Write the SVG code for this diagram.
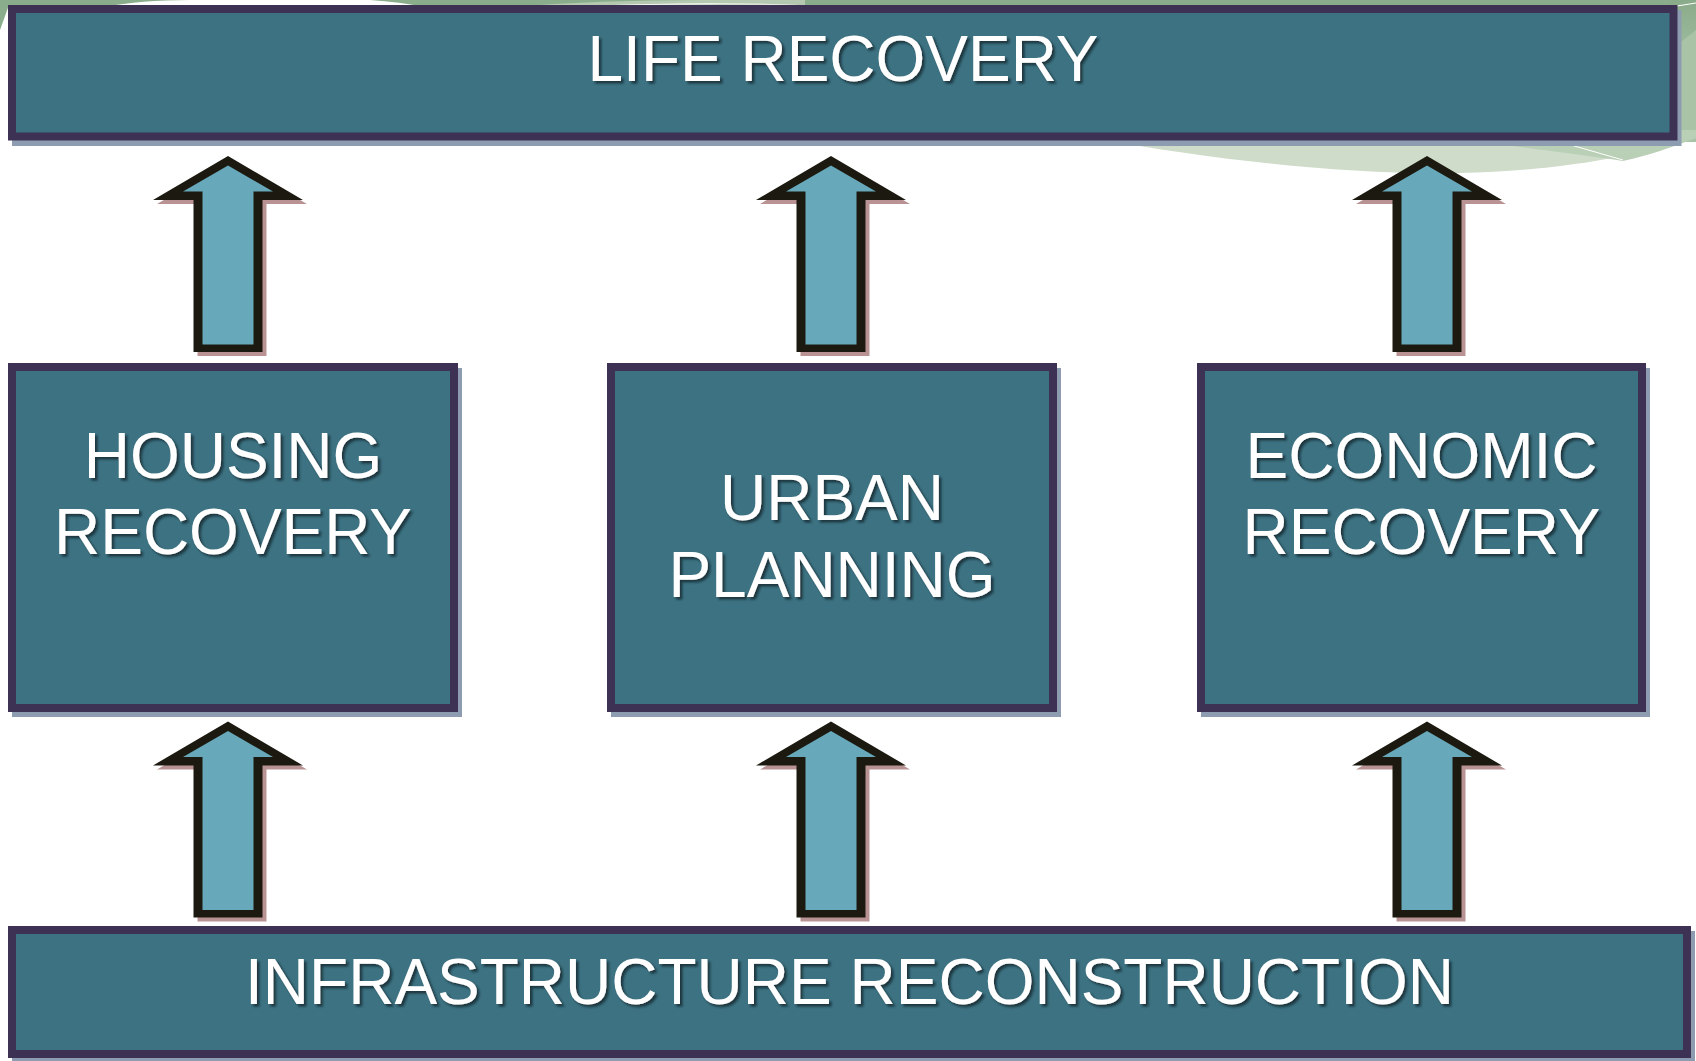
<svg xmlns="http://www.w3.org/2000/svg" xmlns:xlink="http://www.w3.org/1999/xlink" width="1696" height="1061" viewBox="0 0 1696 1061">
  <style>
    .box { fill: #3d7282; stroke: #3e3254; stroke-width: 8; }
    .shadow { fill: #8e9cb2; }
    .label { font-family: "Liberation Sans", Arial, sans-serif; font-size: 64px; fill: #ffffff; text-anchor: middle; filter: url(#ts); }
    .ashadow { fill: #b99393; }
    .aouter { fill: #1c1a10; }
    .ainner { fill: #67a8ba; }
  </style>
  <defs>
    <filter id="ts" x="-10%" y="-20%" width="120%" height="150%">
      <feDropShadow dx="2.5" dy="2.5" stdDeviation="1.2" flood-color="#12222a" flood-opacity="0.75"/>
    </filter>
    <linearGradient id="rg" x1="0" y1="0" x2="0" y2="1">
      <stop offset="0" stop-color="#8aab8a"/>
      <stop offset="0.3" stop-color="#9ab89a"/>
      <stop offset="1" stop-color="#b8cfb5"/>
    </linearGradient>
    <g id="arrow">
      <polygon class="ashadow" points="4,4 79,48 38.5,48 38.5,200 -30.5,200 -30.5,48 -71,48"/>
      <polygon class="aouter" points="0,0 75,44 34.5,44 34.5,196 -34.5,196 -34.5,44 -75,44"/>
      <polygon class="ainner" points="0,9.5 45,35.5 25.5,35.5 25.5,188.5 -25.5,188.5 -25.5,35.5 -45,35.5"/>
    </g>
  </defs>

  <rect x="0" y="0" width="1696" height="1061" fill="#ffffff"/>

  <!-- background decoration -->
  <g id="background">
    <rect x="0" y="0" width="1696" height="7" fill="#8aae8c"/>
    <path d="M105,7 Q140,0 190,0 L370,0 Q400,2 425,7 Z" fill="#ffffff"/>
    <path d="M510,7 Q600,0 700,0 L805,0 L805,7 Z" fill="#b4c9b0"/>
    <path d="M590,6 Q700,1 800,5 Q700,3 590,6 Z" fill="#ffffff"/>
    <polygon points="0,5 9,5 0,30" fill="#8aae8c"/>
    <rect x="1670" y="0" width="26" height="142" fill="url(#rg)"/>
    <path d="M1677,45 Q1686,38 1696,30 L1696,142 L1677,142 Z" fill="#a9c3a6"/>
    <line x1="1677" y1="6" x2="1696" y2="3" stroke="#ffffff" stroke-width="1"/>
    <path d="M1090,130 L1696,130 L1696,138 C1640,155 1560,171 1460,173 C1340,175 1220,160 1090,138 Z" fill="#d0dcca"/>
    <path d="M1470,130 L1696,130 L1696,138 C1670,148 1650,155 1623,161 C1590,156 1530,148 1470,141 Z" fill="#b9cfb6"/>
    <line x1="1557" y1="141" x2="1623" y2="160" stroke="#ffffff" stroke-width="1"/>
  </g>

  <!-- connectors -->
  <g id="connectors">
    <use xlink:href="#arrow" href="#arrow" x="228" y="156"/>
    <use xlink:href="#arrow" href="#arrow" x="831" y="156"/>
    <use xlink:href="#arrow" href="#arrow" x="1427" y="156"/>
    <use xlink:href="#arrow" href="#arrow" x="228" y="721.5"/>
    <use xlink:href="#arrow" href="#arrow" x="831" y="721.5"/>
    <use xlink:href="#arrow" href="#arrow" x="1427" y="721.5"/>
  </g>

  <g id="life-recovery">
    <rect class="shadow" x="12" y="10" width="1669.5" height="136"/>
    <rect class="box" x="12" y="9" width="1661.5" height="127.5"/>
    <text class="label" x="843" y="81">LIFE RECOVERY</text>
  </g>

  <g id="housing-recovery">
    <rect class="shadow" x="12" y="368" width="450" height="349"/>
    <rect class="box" x="12" y="367" width="442" height="341"/>
    <text class="label" x="233" y="478">HOUSING</text>
    <text class="label" x="233" y="554">RECOVERY</text>
  </g>

  <g id="urban-planning">
    <rect class="shadow" x="611" y="368" width="450" height="349"/>
    <rect class="box" x="611" y="367" width="442" height="341"/>
    <text class="label" x="832" y="520">URBAN</text>
    <text class="label" x="832" y="596.5">PLANNING</text>
  </g>

  <g id="economic-recovery">
    <rect class="shadow" x="1201" y="368" width="449" height="349"/>
    <rect class="box" x="1201" y="367" width="441" height="341"/>
    <text class="label" x="1421.5" y="478">ECONOMIC</text>
    <text class="label" x="1421.5" y="554">RECOVERY</text>
  </g>

  <g id="infrastructure-reconstruction">
    <rect class="shadow" x="12" y="931" width="1683" height="135"/>
    <rect class="box" x="12" y="930" width="1675" height="124"/>
    <text class="label" x="849.5" y="1004">INFRASTRUCTURE RECONSTRUCTION</text>
  </g>
</svg>
